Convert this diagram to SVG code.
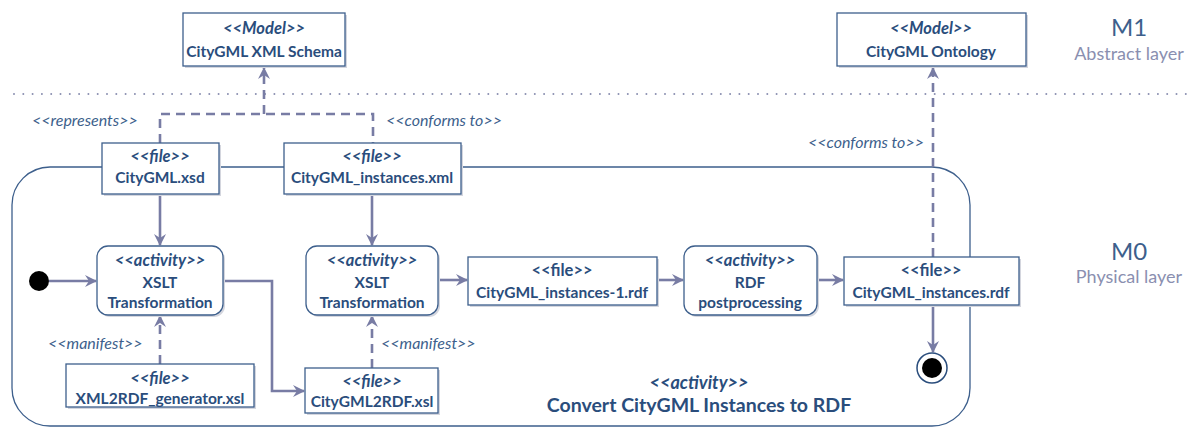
<svg xmlns="http://www.w3.org/2000/svg" width="1195" height="427" viewBox="0 0 1195 427">
<style>
text{font-family:Lato,"Open Sans","Liberation Sans",sans-serif;fill:#2a4d7c;text-anchor:middle;font-size:15.5px}
.b{font-weight:bold}
.i{font-style:italic;font-size:16.5px}
.s{font-size:16.5px}
.box{fill:#fff;stroke:#3d5f8c;stroke-width:1.3}
.sh{fill:#d4d6de}
.c{fill:none;stroke:#787ca4;stroke-width:2.6}
.d{stroke-dasharray:9 6}
.lab{font-style:italic;fill:#3d5f8c;text-anchor:start;font-size:16px}
.m{font-size:24px;fill:#3d5f8c}
.l{font-size:18px;fill:#8a8fb0}
</style>
<defs>
<marker id="a" viewBox="0 0 12 12" refX="11" refY="6" markerWidth="12" markerHeight="12" markerUnits="userSpaceOnUse" orient="auto">
<path d="M0,0 L12,6 L0,12 L4,6 z" fill="#787ca4"/>
</marker>
</defs>
<line x1="14" y1="94" x2="1195" y2="94" stroke="#8a8fb0" stroke-width="2" stroke-linecap="round" stroke-dasharray="0 9.3"/>
<g id="layers">
<text class="m" x="1129" y="36">M1</text>
<text class="l" x="1129" y="60">Abstract layer</text>
<text class="m" x="1129" y="260">M0</text>
<text class="l" x="1129" y="283">Physical layer</text>
</g>
<g id="container">
<rect x="12" y="167" width="958" height="259" rx="38" fill="none" stroke="#3d5f8c" stroke-width="1.3"/>
<text class="b i" x="699" y="389" style="font-size:18px">&lt;&lt;activity&gt;&gt;</text>
<text class="b" x="699" y="412" style="font-size:19.5px">Convert CityGML Instances to RDF</text>
</g>
<g id="connectors">
<path class="c d" d="M160,143 V114 H373 V143"/>
<path class="c d" d="M264,114 V68" marker-end="url(#a)"/>
<path class="c d" d="M933,257 V68" marker-end="url(#a)"/>
<path class="c" d="M160,194 V245" marker-end="url(#a)"/>
<path class="c" d="M372,194 V245" marker-end="url(#a)"/>
<path class="c" d="M49,281 H96" marker-end="url(#a)"/>
<path class="c" d="M223,281 H272 V391 H304" marker-end="url(#a)"/>
<path class="c d" d="M160,364 V316" marker-end="url(#a)"/>
<path class="c d" d="M372,368 V316" marker-end="url(#a)"/>
<path class="c" d="M438,280 H467" marker-end="url(#a)"/>
<path class="c" d="M657,280 H683" marker-end="url(#a)"/>
<path class="c" d="M817,280 H843" marker-end="url(#a)"/>
<path class="c" d="M933,305 V352" marker-end="url(#a)"/>
<text class="lab" x="32" y="126">&lt;&lt;represents&gt;&gt;</text>
<text class="lab" x="386" y="126">&lt;&lt;conforms to&gt;&gt;</text>
<text class="lab" x="808" y="148">&lt;&lt;conforms to&gt;&gt;</text>
<text class="lab" x="48" y="349">&lt;&lt;manifest&gt;&gt;</text>
<text class="lab" x="381" y="349">&lt;&lt;manifest&gt;&gt;</text>
</g>
<g id="schema">
<rect class="sh" x="185" y="15" width="162" height="53"/>
<rect class="box" x="183" y="13" width="162" height="53"/>
<text class="b i" x="264" y="34">&lt;&lt;Model&gt;&gt;</text>
<text class="b" x="264" y="57">CityGML XML Schema</text>
</g>
<g id="ontology">
<rect class="sh" x="839" y="15" width="189" height="53"/>
<rect class="box" x="837" y="13" width="189" height="53"/>
<text class="b i" x="931" y="34">&lt;&lt;Model&gt;&gt;</text>
<text class="b" x="931" y="57">CityGML Ontology</text>
</g>
<g id="xsd">
<rect class="sh" x="104" y="145" width="117" height="51"/>
<rect class="box" x="102" y="143" width="117" height="51"/>
<text class="b i" x="160" y="162">&lt;&lt;file&gt;&gt;</text>
<text class="b" x="160" y="183">CityGML.xsd</text>
</g>
<g id="instxml">
<rect class="sh" x="286" y="145" width="177" height="51"/>
<rect class="box" x="284" y="143" width="177" height="51"/>
<text class="b i" x="372" y="162">&lt;&lt;file&gt;&gt;</text>
<text class="b" x="372" y="183">CityGML_instances.xml</text>
</g>
<g id="start">
<circle cx="39" cy="281" r="10" fill="#000"/>
</g>
<g id="xslt1">
<rect class="sh" x="99" y="248" width="126" height="69" rx="11"/>
<rect class="box" x="97" y="246" width="126" height="69" rx="11"/>
<text class="b i" x="160" y="266">&lt;&lt;activity&gt;&gt;</text>
<text class="b" x="160" y="288">XSLT</text>
<text class="b" x="160" y="308">Transformation</text>
</g>
<g id="xslt2">
<rect class="sh" x="308" y="248" width="132" height="69" rx="11"/>
<rect class="box" x="306" y="246" width="132" height="69" rx="11"/>
<text class="b i" x="372" y="266">&lt;&lt;activity&gt;&gt;</text>
<text class="b" x="372" y="288">XSLT</text>
<text class="b" x="372" y="308">Transformation</text>
</g>
<g id="generator">
<rect class="sh" x="68" y="366" width="188" height="43"/>
<rect class="box" x="66" y="364" width="188" height="43"/>
<text class="b i" x="160" y="384">&lt;&lt;file&gt;&gt;</text>
<text class="b" x="160" y="404">XML2RDF_generator.xsl</text>
</g>
<g id="c2rdf">
<rect class="sh" x="307" y="370" width="133" height="45"/>
<rect class="box" x="305" y="368" width="133" height="45"/>
<text class="b i" x="372" y="387">&lt;&lt;file&gt;&gt;</text>
<text class="b" x="372" y="407">CityGML2RDF.xsl</text>
</g>
<g id="rdf1">
<rect class="sh" x="470" y="259" width="189" height="48"/>
<rect class="box" x="468" y="257" width="189" height="48"/>
<text class="b s" x="562" y="276">&lt;&lt;file&gt;&gt;</text>
<text class="b" x="562" y="298">CityGML_instances-1.rdf</text>
</g>
<g id="post">
<rect class="sh" x="686" y="248" width="133" height="69" rx="11"/>
<rect class="box" x="684" y="246" width="133" height="69" rx="11"/>
<text class="b i" x="750" y="266">&lt;&lt;activity&gt;&gt;</text>
<text class="b" x="750" y="288">RDF</text>
<text class="b" x="750" y="308">postprocessing</text>
</g>
<g id="rdf">
<rect class="sh" x="846" y="259" width="175" height="48"/>
<rect class="box" x="844" y="257" width="175" height="48"/>
<text class="b s" x="931" y="276">&lt;&lt;file&gt;&gt;</text>
<text class="b" x="931" y="298">CityGML_instances.rdf</text>
</g>
<g id="final">
<circle cx="932" cy="368" r="15" fill="#fff" stroke="#2a4d7c" stroke-width="1.5"/>
<circle cx="932" cy="368" r="10" fill="#000"/>
</g>
</svg>
